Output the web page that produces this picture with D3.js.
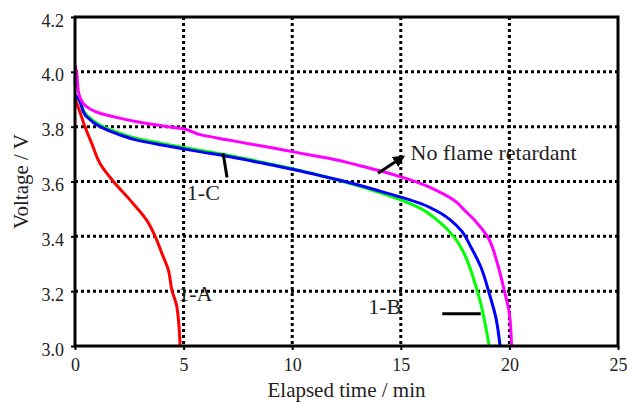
<!DOCTYPE html>
<html>
<head>
<meta charset="utf-8">
<script src="https://cdn.jsdelivr.net/npm/d3@7"></script>
<style>
  body { margin: 0; background: #fff; }
</style>
</head>
<body>
<div id="chart"></div>
<script>
// chart size and margins
const width = 627;
const height = 403;
const margin = {left: 75, right: 9, top: 17, bottom: 57};
const serif = "Liberation Serif";

// tick values
const xTicks = [0, 5, 10, 15, 20, 25];
const yTicks = [3.0, 3.2, 3.4, 3.6, 3.8, 4.0, 4.2];

// No flame retardant (magenta)
const timeNoFR = [0, 0.02, 0.08, 0.15, 0.38, 1.15, 2, 2.85, 4, 4.84, 5.8, 7, 8, 9, 10, 11, 12, 13, 14, 15, 15.9, 16.7, 17.45, 18.0, 18.4, 19.0, 19.45, 19.76, 20.0, 20.1];
const voltNoFR = [3.95, 4.02, 3.995, 3.93, 3.885, 3.849, 3.832, 3.818, 3.803, 3.794, 3.77, 3.752, 3.738, 3.724, 3.709, 3.694, 3.679, 3.66, 3.64, 3.617, 3.593, 3.565, 3.532, 3.49, 3.459, 3.398, 3.30, 3.204, 3.118, 3.0];

// 1-A (red)
const time1A = [0, 0.08, 0.46, 0.77, 1.15, 1.77, 2.54, 3.3, 3.69, 4.0, 4.3, 4.46, 4.69, 4.84];
const volt1A = [3.90, 3.885, 3.80, 3.739, 3.666, 3.60, 3.532, 3.459, 3.40, 3.338, 3.277, 3.204, 3.143, 3.0];

// 1-B (blue)
const time1B = [0, 0.08, 0.54, 1.15, 2, 2.85, 4, 4.84, 5.8, 7, 8, 9, 10, 11, 12, 13, 14, 15, 15.9, 16.84, 17.76, 18.22, 18.68, 19.07, 19.37, 19.57];
const volt1B = [3.915, 3.909, 3.836, 3.80, 3.772, 3.751, 3.733, 3.721, 3.708, 3.692, 3.677, 3.661, 3.645, 3.627, 3.608, 3.588, 3.566, 3.543, 3.52, 3.484, 3.423, 3.362, 3.289, 3.192, 3.106, 3.0];

// 1-C (green)
const time1C = [0, 0.08, 0.54, 1.15, 2, 2.85, 4, 4.84, 5.8, 7, 8, 9, 10, 11, 12, 13, 14, 15, 15.9, 16.68, 17.45, 17.91, 18.37, 18.68, 18.91, 19.07];
const volt1C = [3.91, 3.905, 3.842, 3.806, 3.778, 3.757, 3.739, 3.727, 3.713, 3.697, 3.681, 3.664, 3.647, 3.628, 3.607, 3.585, 3.56, 3.533, 3.502, 3.459, 3.398, 3.338, 3.24, 3.155, 3.07, 3.0];

const series = [
  {name: "1-C", t: time1C, v: volt1C, color: "#00ff00"},
  {name: "1-B", t: time1B, v: volt1B, color: "#0000ff"},
  {name: "No flame retardant", t: timeNoFR, v: voltNoFR, color: "#ff00ff"},
  {name: "1-A", t: time1A, v: volt1A, color: "#ff0000"}
];

const svg = d3.select("#chart")
  .append("svg")
  .attr("width", width)
  .attr("height", height);

// scales
const x = d3.scaleLinear().domain([0, 25]).range([margin.left, width - margin.right]);
const y = d3.scaleLinear().domain([3.0, 4.2]).range([height - margin.bottom, margin.top]);

// dotted grid
svg.append("g")
  .selectAll("line")
  .data(xTicks.slice(1, -1))
  .join("line")
    .attr("x1", d => x(d)).attr("x2", d => x(d))
    .attr("y1", y(4.2)).attr("y2", y(3.0))
    .attr("stroke", "#000").attr("stroke-width", 3)
    .attr("stroke-dasharray", "3,3");

svg.append("g")
  .selectAll("line")
  .data(yTicks.slice(1, -1))
  .join("line")
    .attr("x1", x(0)).attr("x2", x(25))
    .attr("y1", d => y(d)).attr("y2", d => y(d))
    .attr("stroke", "#000").attr("stroke-width", 3)
    .attr("stroke-dasharray", "3,3");

// axes
const xAxis = svg.append("g")
  .attr("transform", `translate(0,${height - margin.bottom})`)
  .call(d3.axisBottom(x).tickValues(xTicks).tickSize(4).tickPadding(8).tickFormat(d3.format("d")));
xAxis.select(".domain").remove();
xAxis.selectAll("line").attr("stroke-width", 2);
xAxis.attr("font-family", null).attr("font-size", null);
xAxis.selectAll("text")
  .attr("font-family", serif).attr("font-size", 18).attr("fill", "#222");

const yAxis = svg.append("g")
  .attr("transform", `translate(${margin.left},0)`)
  .call(d3.axisLeft(y).tickValues(yTicks).tickSize(4).tickPadding(7).tickFormat(d3.format(".1f")));
yAxis.select(".domain").remove();
yAxis.selectAll("line").attr("stroke-width", 2);
yAxis.attr("font-family", null).attr("font-size", null);
yAxis.selectAll("text")
  .attr("font-family", serif).attr("font-size", 18).attr("fill", "#222").attr("dy", "0.5em");

// curves
const line = d3.line()
  .curve(d3.curveMonotoneY)
  .x(d => x(d[0]))
  .y(d => y(d[1]));

svg.append("g")
  .selectAll("path")
  .data(series)
  .join("path")
    .attr("fill", "none")
    .attr("stroke", d => d.color)
    .attr("stroke-width", 3)
    .attr("stroke-linejoin", "round")
    .attr("d", d => line(d3.zip(d.t, d.v)));

// frame
svg.append("rect")
  .attr("x", x(0)).attr("y", y(4.2))
  .attr("width", x(25) - x(0)).attr("height", y(3.0) - y(4.2))
  .attr("fill", "none").attr("stroke", "#000").attr("stroke-width", 3);

// annotations
svg.append("defs").append("marker")
  .attr("id", "arrow")
  .attr("viewBox", "0 0 10 10")
  .attr("refX", 8).attr("refY", 5)
  .attr("markerWidth", 4).attr("markerHeight", 4)
  .attr("orient", "auto")
  .append("path").attr("d", "M0,0L10,5L0,10z").attr("fill", "#000");

function label(txt, px, py, size, anchor) {
  return svg.append("text")
    .attr("x", px).attr("y", py)
    .attr("font-family", serif)
    .attr("font-size", size)
    .attr("fill", "#222")
    .attr("text-anchor", anchor || "start")
    .text(txt);
}

svg.append("line")
  .attr("x1", x(13.95)).attr("y1", y(3.63))
  .attr("x2", x(15.1)).attr("y2", y(3.69))
  .attr("stroke", "#000").attr("stroke-width", 3)
  .attr("marker-end", "url(#arrow)");
label("No flame retardant", x(15.45), y(3.7) + 6, 22);

svg.append("line")
  .attr("x1", x(6.82)).attr("y1", y(3.703))
  .attr("x2", x(7.0)).attr("y2", y(3.615))
  .attr("stroke", "#000").attr("stroke-width", 3);
label("1-C", x(5.15), y(3.6) + 18, 22);

label("1-A", x(4.75), y(3.2) + 10, 22);

svg.append("line")
  .attr("x1", x(16.91)).attr("y1", y(3.118))
  .attr("x2", x(18.68)).attr("y2", y(3.118))
  .attr("stroke", "#000").attr("stroke-width", 3);
label("1-B", x(13.5), y(3.2) + 23, 22);

// axis titles
label("Elapsed time / min", (x(0) + x(25)) / 2, 397, 21, "middle");

label("Voltage / V", 0, 0, 21, "middle")
  .attr("transform", `translate(28,${(y(3.0) + y(4.2)) / 2}) rotate(-90)`);
</script>
</body>
</html>
